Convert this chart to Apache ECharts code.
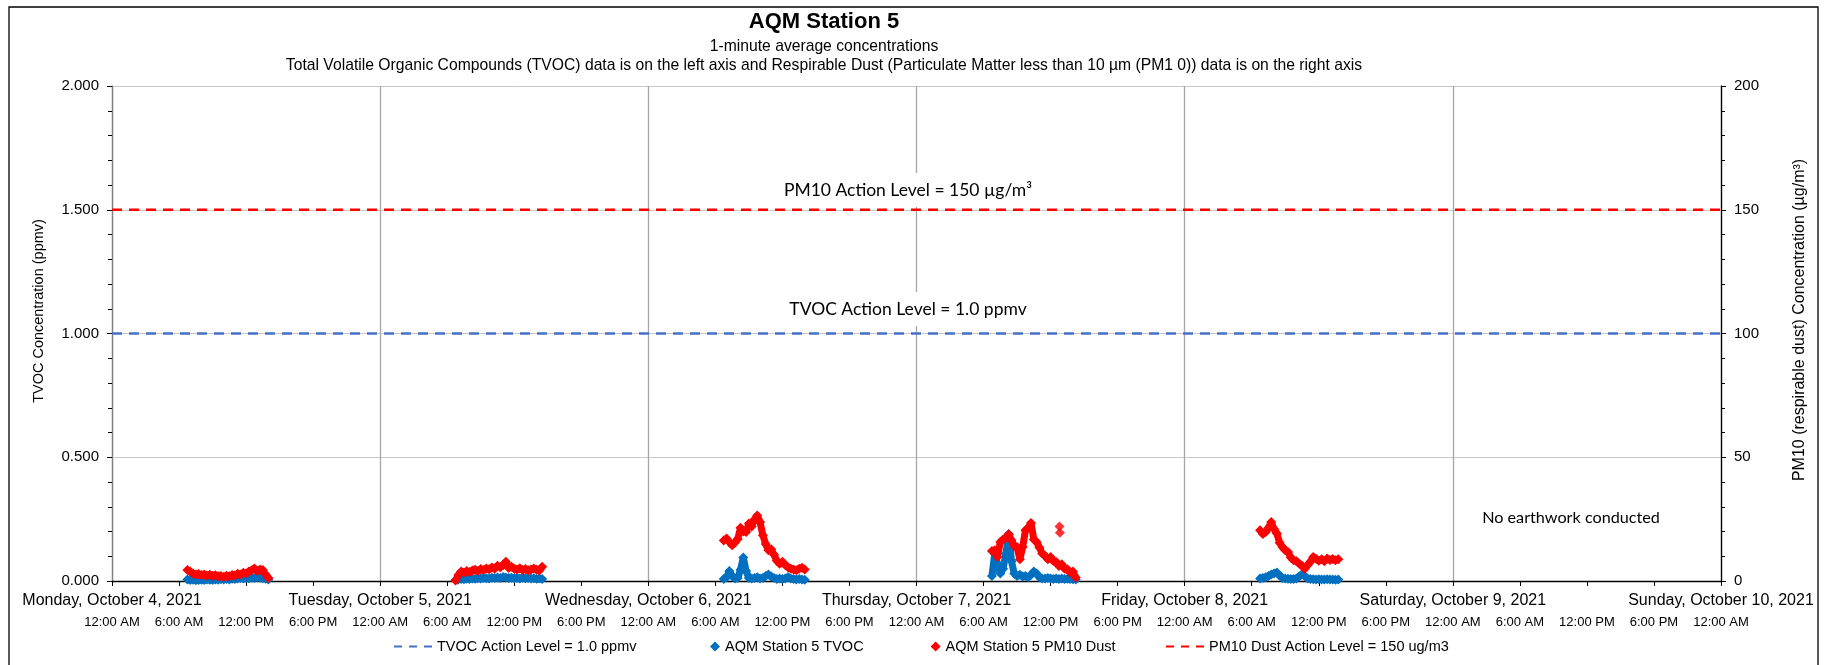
<!DOCTYPE html>
<html>
<head>
<meta charset="utf-8">
<script src="https://cdn.jsdelivr.net/npm/echarts@6/dist/echarts.min.js"></script>
<style>
  html, body { margin: 0; padding: 0; background: #fff; }
  #chart { width: 1827px; height: 665px; }
</style>
</head>
<body>
<div id="chart"></div>
<script>
// ---------------- data ----------------
const dayLabels = ["Monday, October 4, 2021", "Tuesday, October 5, 2021", "Wednesday, October 6, 2021",
  "Thursday, October 7, 2021", "Friday, October 8, 2021", "Saturday, October 9, 2021", "Sunday, October 10, 2021"];
const timeLabels = ["12:00 AM", "6:00 AM", "12:00 PM", "6:00 PM"];

// start of each day's record (readings every 15 minutes from here)
const recordStarts = ["2021-10-04 06:45", "2021-10-05 06:45", "2021-10-06 06:45", "2021-10-07 06:45", "2021-10-08 06:45"];

// TVOC (ppmv), left axis
const tvocOct4 = [0.006,0.004,0.005,0.003,0.004,0.005,0.004,0.006,0.005,0.004,0.006,0.005,0.007,0.006,0.008,0.006,0.009,0.008,0.010,0.012,0.010,0.013,0.011,0.014,0.012,0.015,0.013,0.011,0.009,0.006];
const tvocOct5 = [0.004,0.006,0.008,0.007,0.009,0.008,0.010,0.009,0.011,0.010,0.012,0.011,0.010,0.013,0.012,0.014,0.012,0.016,0.014,0.012,0.013,0.011,0.012,0.010,0.013,0.011,0.012,0.010,0.011,0.009,0.010,0.008];
const tvocOct6 = [0.008,0.015,0.040,0.020,0.010,0.012,0.045,0.095,0.040,0.012,0.010,0.012,0.015,0.010,0.012,0.020,0.026,0.018,0.012,0.008,0.010,0.008,0.010,0.016,0.010,0.008,0.006,0.008,0.006,0.005];
const tvocOct7 = [0.020,0.110,0.070,0.030,0.050,0.110,0.190,0.080,0.030,0.020,0.025,0.018,0.020,0.015,0.025,0.038,0.030,0.015,0.010,0.010,0.012,0.010,0.008,0.010,0.008,0.010,0.008,0.009,0.008,0.007,0.006];
const tvocOct8 = [0.010,0.012,0.015,0.020,0.026,0.030,0.034,0.022,0.012,0.010,0.009,0.008,0.008,0.010,0.018,0.027,0.020,0.010,0.008,0.007,0.006,0.007,0.006,0.006,0.007,0.006,0.006,0.005,0.006];

// PM10 dust (ug/m3), right axis
const pm10Oct4 = [4.4,3.8,3.0,2.6,2.8,2.4,2.6,2.2,2.5,2.1,2.3,1.9,2.0,1.7,2.1,1.9,2.4,2.2,2.9,2.6,3.3,3.0,3.8,4.3,5.1,4.0,4.6,4.4,2.6,1.2];
const pm10Oct5 = [0.2,2.4,3.8,3.4,4.0,3.6,4.2,4.5,4.0,4.8,4.4,5.1,4.7,5.5,5.0,6.2,5.6,6.4,7.8,5.3,5.8,5.0,4.6,5.2,4.4,4.8,4.3,4.6,5.1,4.5,4.2,5.8];
const pm10Oct6 = [16.4,17.2,15.8,14.4,15.6,17.0,21.5,20.0,19.8,23.2,22.0,24.8,26.5,23.8,18.5,15.0,12.4,12.8,10.6,8.2,7.0,7.8,6.5,5.6,5.0,4.6,4.3,5.0,5.4,4.6];
const pm10Oct7 = [12.1,12.4,9.7,15.8,16.8,17.5,18.9,16.5,14.1,13.7,8.8,13.7,20.5,21.5,23.4,16.8,15.8,13.5,11.1,10.2,8.8,9.7,8.1,7.7,6.1,6.8,5.0,4.7,3.4,3.8,1.4];
const pm10Oct8 = [20.5,19.0,19.8,21.5,23.8,21.0,19.2,15.5,13.7,12.4,11.7,9.5,8.4,8.0,7.0,6.2,5.0,6.4,7.8,9.7,9.0,8.2,8.8,8.0,9.1,8.5,8.9,8.4,8.8];
const pm10Outliers = [["2021-10-07 12:48", 22.0], ["2021-10-07 12:50", 19.5]];

const tvocActionLevel = 1.0;
const pm10ActionLevel = 150;
const axisStart = "2021-10-04 00:00";
const axisEnd = "2021-10-10 00:00";

// ---------------- helpers ----------------
const HOUR = 3600 * 1000;
const STEP = 15 * 60 * 1000;
function ts(s) {
  const [d, t] = s.split(" ");
  const [y, m, dd] = d.split("-").map(Number);
  const [hh, mm] = t.split(":").map(Number);
  return Date.UTC(y, m - 1, dd, hh, mm);
}
const T0 = ts(axisStart), T1 = ts(axisEnd);
function build(dayArrays) {
  const out = [];
  dayArrays.forEach((arr, d) => {
    const s = ts(recordStarts[d]);
    arr.forEach((v, i) => out.push([s + i * STEP, v]));
    out.push([s + arr.length * STEP, '-']); // no readings overnight
  });
  return out;
}
const tvocData = build([tvocOct4, tvocOct5, tvocOct6, tvocOct7, tvocOct8]);
const pm10Data = build([pm10Oct4, pm10Oct5, pm10Oct6, pm10Oct7, pm10Oct8]);
const pm10OutlierData = pm10Outliers.map(p => [ts(p[0]), p[1]]);

const FONT = "'Liberation Sans', Arial, sans-serif";
const CAL = "Lato, 'Noto Sans', sans-serif";
const BLUE = '#0070C0', RED = '#FF0000', ACT_BLUE = '#4472C4';

const legendCommon = {
  top: 634, selectedMode: false,
  textStyle: { fontFamily: FONT, fontSize: 14.5, color: '#000' }
};

const chart = echarts.init(document.getElementById('chart'), null, { renderer: 'canvas' });
chart.setOption({
  animation: false,
  backgroundColor: '#fff',
  grid: { left: 112, right: 106, top: 86, bottom: 84, containLabel: false },
  legend: [
    Object.assign({}, legendCommon, {
      left: 388, itemWidth: 38, itemHeight: 12,
      itemStyle: { opacity: 0 },
      lineStyle: { type: [8, 7] },
      data: ['TVOC Action Level = 1.0 ppmv']
    }),
    Object.assign({}, legendCommon, {
      left: 705, itemWidth: 10, itemHeight: 10, itemGap: 67,
      lineStyle: { width: 0, opacity: 0 },
      data: [{ name: 'AQM Station 5 TVOC', icon: 'diamond' }, { name: 'AQM Station 5 PM10 Dust', icon: 'diamond' }]
    }),
    Object.assign({}, legendCommon, {
      left: 1160, itemWidth: 38, itemHeight: 12,
      itemStyle: { opacity: 0 },
      lineStyle: { type: [8, 7] },
      data: ['PM10 Dust Action Level = 150 ug/m3']
    })
  ],
  xAxis: [
    {
      type: 'value', min: T0, max: T1, interval: 6 * HOUR, position: 'bottom',
      axisLine: { show: true, onZero: false, lineStyle: { color: '#000', width: 1.3 } },
      axisTick: { show: true, length: 5, lineStyle: { color: '#000' } },
      axisLabel: {
        margin: 35, fontFamily: FONT, fontSize: 13, color: '#000', showMinLabel: true, showMaxLabel: true,
        formatter: v => timeLabels[Math.round((v - T0) / (6 * HOUR)) % 4]
      },
      splitLine: { show: false }
    },
    {
      type: 'value', min: T0, max: T1, interval: 24 * HOUR, position: 'bottom',
      axisLine: { show: false }, axisTick: { show: false },
      axisLabel: {
        margin: 12, fontFamily: FONT, fontSize: 16, color: '#000', showMinLabel: true, showMaxLabel: true,
        formatter: v => dayLabels[Math.round((v - T0) / (24 * HOUR))]
      },
      splitLine: { show: true, lineStyle: { color: '#A6A6A6', width: 1.3 } }
    }
  ],
  yAxis: [
    {
      type: 'value', min: 0, max: 2, interval: 0.5, position: 'left',
      axisLine: { show: true, lineStyle: { color: '#808080', width: 1.3 } },
      axisTick: { show: true, length: 5, lineStyle: { color: '#000' } },
      minorTick: { show: true, splitNumber: 5, length: 4, lineStyle: { color: '#000' } },
      axisLabel: { margin: 13, fontFamily: FONT, fontSize: 15, color: '#000', formatter: v => v.toFixed(3) },
      splitLine: { show: true, lineStyle: { color: '#C8C8C8', width: 1 } }
    },
    {
      type: 'value', min: 0, max: 200, interval: 50, position: 'right',
      axisLine: { show: true, lineStyle: { color: '#000', width: 1.3 } },
      axisTick: { show: true, length: 5, lineStyle: { color: '#000' } },
      minorTick: { show: true, splitNumber: 5, length: 4, lineStyle: { color: '#000' } },
      axisLabel: { margin: 13, fontFamily: FONT, fontSize: 15, color: '#000' },
      splitLine: { show: false }
    }
  ],
  series: [
    {
      name: 'TVOC Action Level = 1.0 ppmv', type: 'line', xAxisIndex: 0, yAxisIndex: 0,
      symbol: 'none', data: [[T0, tvocActionLevel], [T1, tvocActionLevel]],
      lineStyle: { color: ACT_BLUE, width: 2.5, type: [10, 7] }, itemStyle: { color: ACT_BLUE }, z: 3
    },
    {
      name: 'AQM Station 5 TVOC', type: 'line', xAxisIndex: 0, yAxisIndex: 0,
      symbol: 'diamond', symbolSize: 10, showSymbol: true, showAllSymbol: true, connectNulls: false,
      data: tvocData,
      lineStyle: { color: BLUE, width: 7 }, itemStyle: { color: BLUE, borderWidth: 0 }, z: 4
    },
    {
      name: 'AQM Station 5 PM10 Dust', type: 'line', xAxisIndex: 0, yAxisIndex: 1,
      symbol: 'diamond', symbolSize: 10, showSymbol: true, showAllSymbol: true, connectNulls: false,
      data: pm10Data,
      lineStyle: { color: RED, width: 7 }, itemStyle: { color: RED, borderWidth: 0 }, z: 5
    },
    {
      name: 'AQM Station 5 PM10 Dust', type: 'scatter', xAxisIndex: 0, yAxisIndex: 1,
      symbol: 'diamond', symbolSize: 10, data: pm10OutlierData,
      itemStyle: { color: RED }, z: 5
    },
    {
      name: 'PM10 Dust Action Level = 150 ug/m3', type: 'line', xAxisIndex: 0, yAxisIndex: 1,
      symbol: 'none', data: [[T0, pm10ActionLevel], [T1, pm10ActionLevel]],
      lineStyle: { color: RED, width: 2.5, type: [10, 7] }, itemStyle: { color: RED }, z: 3
    }
  ],
  graphic: [
    { type: 'rect', z: 0, silent: true, shape: { x: 9, y: 7, width: 1809, height: 700 },
      style: { fill: 'none', stroke: '#000', lineWidth: 1.3 } },
    { type: 'text', x: 824, y: 22, z: 10, style: { text: 'AQM Station 5', font: "bold 22px " + FONT, fill: '#000', textAlign: 'center', textVerticalAlign: 'middle' } },
    { type: 'text', x: 824, y: 46.5, z: 10, style: { text: '1-minute average concentrations', font: "15.7px " + FONT, fill: '#000', textAlign: 'center', textVerticalAlign: 'middle' } },
    { type: 'text', x: 824, y: 65.5, z: 10, style: { text: 'Total Volatile Organic Compounds (TVOC) data is on the left axis and Respirable Dust (Particulate Matter less than 10 µm (PM1 0)) data is on the right axis', font: "15.7px " + FONT, fill: '#000', textAlign: 'center', textVerticalAlign: 'middle' } },
    { type: 'text', x: 39, y: 311, rotation: Math.PI / 2, z: 10, style: { text: 'TVOC Concentration (ppmv)', font: "14.5px " + FONT, fill: '#000', textAlign: 'center', textVerticalAlign: 'middle' } },
    { type: 'text', x: 1800, y: 320, rotation: Math.PI / 2, z: 10, style: { text: 'PM10 (respirable dust) Concentration (µg/m³)', font: "16px " + FONT, fill: '#000', textAlign: 'center', textVerticalAlign: 'middle' } },
    { type: 'text', x: 908, y: 190, z: 10, style: { text: 'PM10 Action Level = 150 µg/m³', font: "17.5px " + CAL, fill: '#000', textAlign: 'center', textVerticalAlign: 'middle', backgroundColor: '#fff', padding: [8, 6] } },
    { type: 'text', x: 908, y: 309, z: 10, style: { text: 'TVOC Action Level = 1.0 ppmv', font: "17.5px " + CAL, fill: '#000', textAlign: 'center', textVerticalAlign: 'middle', backgroundColor: '#fff', padding: [8, 6] } },
    { type: 'text', x: 1571, y: 518, z: 10, style: { text: 'No earthwork conducted', font: "16.2px " + CAL, fill: '#000', textAlign: 'center', textVerticalAlign: 'middle' } }
  ]
});
</script>
</body>
</html>
